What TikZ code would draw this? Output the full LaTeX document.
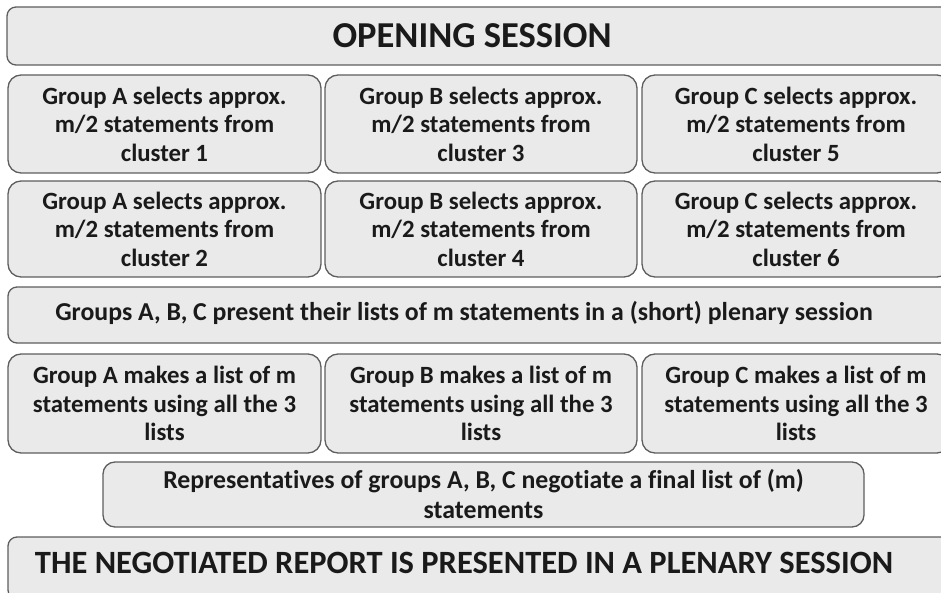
\documentclass[tikz,border=0pt]{standalone}
\usepackage{fontspec}
\setmainfont[Ligatures=NoCommon]{Carlito}
\definecolor{boxfill}{HTML}{EAEAEA}
\definecolor{boxline}{HTML}{5E5E5E}
\definecolor{txt}{HTML}{1A1A1A}
\newcommand{\shiftlines}[2]{\raisebox{#1}[\height][\depth]{\begin{tabular}{@{}c@{}}#2\end{tabular}}}
\begin{document}
\begin{tikzpicture}[x=1pt,y=-1pt,
  box/.style={draw=boxline,fill=boxfill,line width=1.3pt,rounded corners=13pt,
    inner sep=0pt,align=center,text=txt,font=\bfseries\fontsize{24.8}{28.6}\selectfont},
  wide/.style={box,rounded corners=9pt},
  small/.style={font=\bfseries\fontsize{25.8}{30}\selectfont},
  big/.style={font=\bfseries\fontsize{32.5}{36}\selectfont},
  huge/.style={font=\bfseries\fontsize{36.5}{40}\selectfont}]
\useasboundingbox (0,0) rectangle (941,593);
\clip (0,0) rectangle (941,593);
% opening
\node[wide,huge,minimum width=943,minimum height=58] (open) at (478.5,36) {\hspace*{-13pt}OPENING SESSION};
% row 1
\node[box,minimum width=313,minimum height=98] (a1) at (164.5,124) {\shiftlines{-3pt}{Group A selects approx.\\ m/2 statements from\\ cluster 1}};
\node[box,minimum width=312,minimum height=98] (b1) at (481,124) {\shiftlines{-3pt}{Group B selects approx.\\ m/2 statements from\\ cluster 3}};
\node[box,minimum width=308,minimum height=98] (c1) at (796,124) {\shiftlines{-3pt}{Group C selects approx.\\ m/2 statements from\\ cluster 5}};
% row 2
\node[box,minimum width=313,minimum height=96] (a2) at (164.5,229) {\shiftlines{-3pt}{Group A selects approx.\\ m/2 statements from\\ cluster 2}};
\node[box,minimum width=312,minimum height=96] (b2) at (481,229) {\shiftlines{-3pt}{Group B selects approx.\\ m/2 statements from\\ cluster 4}};
\node[box,minimum width=308,minimum height=96] (c2) at (796,229) {\shiftlines{-3pt}{Group C selects approx.\\ m/2 statements from\\ cluster 6}};
% plenary
\node[wide,small,minimum width=942,minimum height=56] (plen) at (479,315) {\hspace*{-30pt}\raisebox{2pt}[\height][\depth]{Groups A, B, C present their lists of m statements in a (short) plenary session}};
% row 4
\node[box,minimum width=313,minimum height=99] (a4) at (164.5,403.5) {\shiftlines{-3pt}{Group A makes a list of m\\ statements using all the 3\\ lists}};
\node[box,minimum width=312,minimum height=99] (b4) at (481,403.5) {\shiftlines{-3pt}{Group B makes a list of m\\ statements using all the 3\\ lists}};
\node[box,minimum width=308,minimum height=99] (c4) at (796,403.5) {\shiftlines{-3pt}{Group C makes a list of m\\ statements using all the 3\\ lists}};
% representatives
\node[box,small,rounded corners=12pt,minimum width=761,minimum height=65] (rep) at (483.5,494.5) {\shiftlines{-3pt}{Representatives of groups A, B, C negotiate a final list of (m)\\ statements}};
% final
\node[wide,big,minimum width=942,minimum height=62] (final) at (479,568) {\hspace*{-30pt}\raisebox{5pt}[\height][\depth]{THE NEGOTIATED REPORT IS PRESENTED IN A PLENARY SESSION}};
\end{tikzpicture}
\end{document}
